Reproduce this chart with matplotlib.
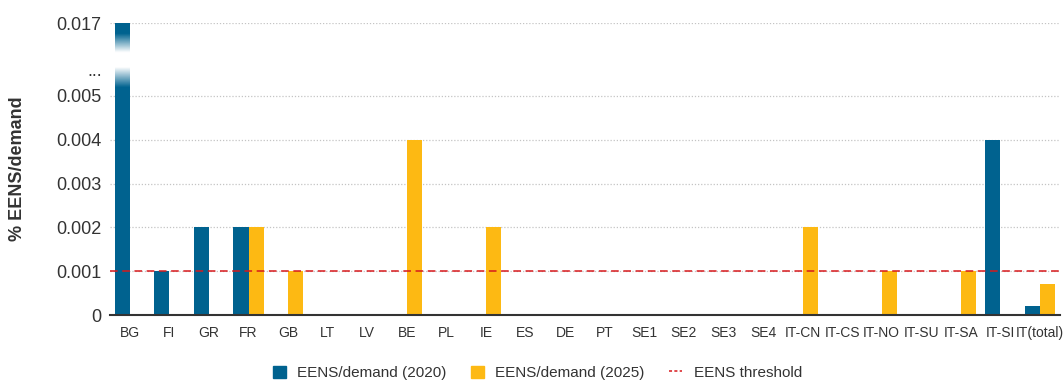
import numpy as np
import matplotlib
matplotlib.use("Agg")
import matplotlib.pyplot as plt
from matplotlib.patches import Patch
from matplotlib.lines import Line2D

plt.rcParams['font.family'] = ['Liberation Sans', 'DejaVu Sans']

# data
areas = ['BG', 'FI', 'GR', 'FR', 'GB', 'LT', 'LV', 'BE', 'PL', 'IE', 'ES', 'DE', 'PT',
         'SE1', 'SE2', 'SE3', 'SE4', 'IT-CN', 'IT-CS', 'IT-NO', 'IT-SU', 'IT-SA', 'IT-SI', 'IT(total)']
eens_2020 = [0.017, 0.001, 0.002, 0.002, 0, 0, 0, 0, 0, 0, 0, 0, 0,
             0, 0, 0, 0, 0, 0, 0, 0, 0, 0.004, 0.0002]
eens_2025 = [0, 0, 0, 0.002, 0.001, 0, 0, 0.004, 0, 0.002, 0, 0, 0,
             0, 0, 0, 0, 0.002, 0, 0.001, 0, 0.001, 0, 0.0007]
threshold = 0.001

BLUE = '#00628f'
YELLOW = '#fdb913'
RED = '#d7191c'
GREY = '#333333'

# broken axis: linear up to 0.005, compressed above
def yt(v):
    v = np.asarray(v, dtype=float)
    return np.where(v <= 0.005, v * 1000, 5 + (v - 0.005) / 0.012 * 1.66)

fig = plt.figure(figsize=(10.64, 3.88), dpi=100)
ax = fig.add_axes([0.1034, 0.188, 0.8926, 0.7527])

x = np.arange(len(areas))
w = 0.38
b1 = ax.bar(x - w / 2, yt(eens_2020), w, color=BLUE, zorder=3)
b2 = ax.bar(x + w / 2, yt(eens_2025), w, color=YELLOW, zorder=3)

# white fade over the broken part of the tall bar
top = float(yt(max(eens_2020)))
p = b1[0]
yy = np.linspace(0, top, 400)
alpha = np.interp(yy, [0, 5.18, 5.64, 5.98, 6.41, top], [0, 0, 1, 1, 0, 0])
img = np.ones((400, 1, 4))
img[:, 0, 3] = alpha
ax.imshow(img, extent=[p.get_x(), p.get_x() + p.get_width(), 0, top],
          origin='lower', aspect='auto', zorder=4, interpolation='bilinear')

ax.axhline(float(yt(threshold)), color=RED, lw=1.1, ls=(0, (5, 3)), zorder=5)

ax.set_xlim(-0.5, len(areas) - 0.5)
ax.set_ylim(0, top)

ticks = [0, 1, 2, 3, 4, 5, 5.6, top]
labels = ['0', '0.001', '0.002', '0.003', '0.004', '0.005', '...', '0.017']
ax.set_yticks(ticks)
ax.set_yticklabels(labels)
for t in [1, 2, 3, 4, 5, top]:
    ax.axhline(t, color='#c4c4c4', lw=0.9, ls=(0, (1, 1.5)), zorder=1)

ax.set_xticks(x)
ax.set_xticklabels(areas)
ax.tick_params(axis='y', length=0, labelsize=13, colors=GREY, pad=6)
ax.tick_params(axis='x', length=0, labelsize=10, colors=GREY, pad=8)

for s in ['top', 'right', 'left']:
    ax.spines[s].set_visible(False)
ax.spines['bottom'].set_color(GREY)
ax.spines['bottom'].set_linewidth(1.5)
ax.spines['bottom'].set_zorder(6)

ax.set_ylabel('% EENS/demand', fontsize=13, fontweight='bold', color=GREY, labelpad=22)

handles = [Patch(color=BLUE), Patch(color=YELLOW),
           Line2D([0], [0], color=RED, lw=1.1, ls=(0, (2, 1.5)))]
fig.legend(handles, ['EENS/demand (2020)', 'EENS/demand (2025)', 'EENS threshold'],
           loc='center', bbox_to_anchor=(0.505, 0.039), ncol=3, frameon=False,
           fontsize=11, handlelength=0.85, handleheight=0.85, columnspacing=1.6,
           handletextpad=0.75, labelcolor=GREY)

fig.savefig('out.png', dpi=100)
